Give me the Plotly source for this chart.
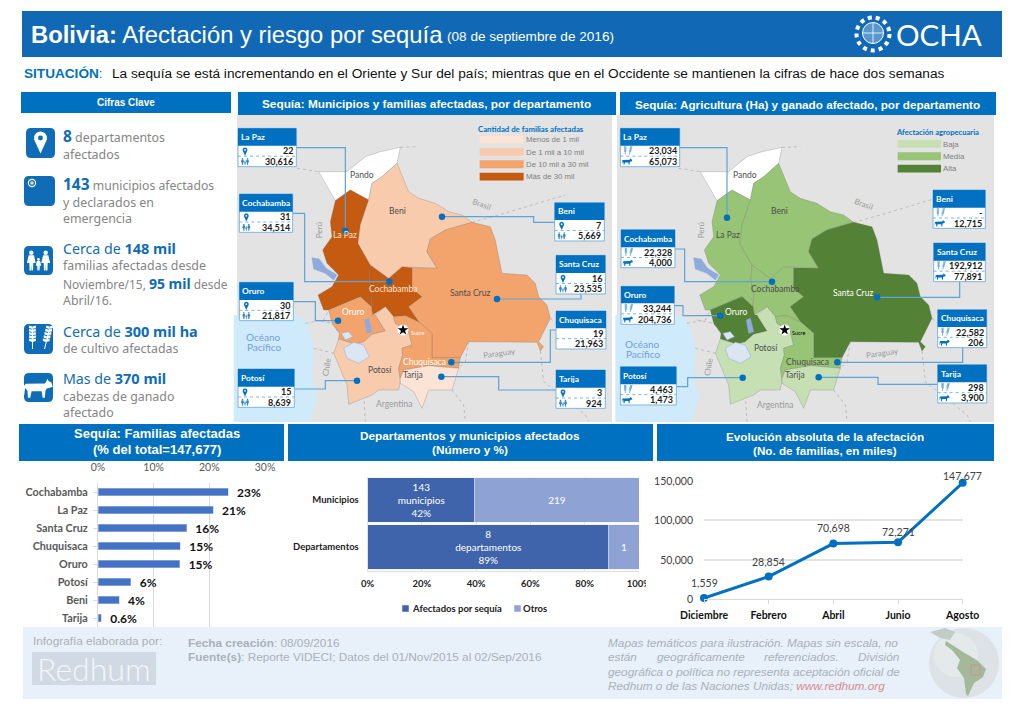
import numpy as np
import plotly.graph_objects as go

# ---------- chart data ----------
dept_names = ["Cochabamba", "La Paz", "Santa Cruz", "Chuquisaca", "Oruro", "Potosí", "Beni", "Tarija"]
dept_pct = [23.4, 20.7, 15.9, 14.8, 14.7, 5.9, 3.8, 0.6]
dept_pct_labels = ["23%", "21%", "16%", "15%", "15%", "6%", "4%", "0.6%"]

stack_cats = ["Municipios", "Departamentos"]
stack_afect = [143, 8]
stack_otros = [219, 1]
stack_afect_labels = ["143<br>municipios<br>42%", "8<br>departamentos<br>89%"]
stack_otros_labels = ["219", "1"]
stack_series = ["Afectados por sequía", "Otros"]

evo_months = ["Diciembre", "Febrero", "Abril", "Junio", "Agosto"]
evo_values = [1559, 28854, 70698, 72271, 147677]
evo_labels = ["1,559", "28,854", "70,698", "72,271", "147,677"]
evo_label_lift = [15, 15, 16, 10, 7]

# ---------- map callout data ----------
map1_callouts = {
    "La Paz": ("22", "30,616"), "Cochabamba": ("31", "34,514"), "Oruro": ("30", "21,817"),
    "Potosí": ("15", "8,639"), "Beni": ("7", "5,669"), "Santa Cruz": ("16", "23,535"),
    "Chuquisaca": ("19", "21,963"), "Tarija": ("3", "924"),
}
map2_callouts = {
    "La Paz": ("23,034", "65,073"), "Cochabamba": ("22,328", "4,000"), "Oruro": ("33,244", "204,736"),
    "Potosí": ("4,463", "1,473"), "Beni": ("-", "12,715"), "Santa Cruz": ("192,912", "77,891"),
    "Chuquisaca": ("22,582", "206"), "Tarija": ("298", "3,900"),
}
map1_fill = {"Pando": "#FFFFFF", "La Paz": "#C55A11", "Cochabamba": "#C55A11", "Beni": "#F8CBAD",
             "Santa Cruz": "#F2A46C", "Oruro": "#F2A46C", "Potosí": "#F8CBAD", "Chuquisaca": "#F2A46C",
             "Tarija": "#FBE4D5"}
map2_fill = {"Pando": "#FFFFFF", "La Paz": "#97C475", "Cochabamba": "#97C475", "Beni": "#97C475",
             "Santa Cruz": "#538135", "Oruro": "#538135", "Potosí": "#C6E0B4", "Chuquisaca": "#97C475",
             "Tarija": "#C6E0B4"}
map1_legend = [("Menos de 1 mil", "#FBE4D5"), ("De 1 mil a 10 mil", "#F8CBAD"),
               ("De 10 mil a 30 mil", "#F2A46C"), ("Más de 30 mil", "#C55A11")]
map2_legend = [("Baja", "#C6E0B4"), ("Media", "#97C475"), ("Alta", "#538135")]

# ---------- schematic outlines, traced in map-crop coordinates ----------
REGIONS = {
    "Pando": [(260,170),(345,170),(400,125),(445,110),(505,97),(500,125),(495,145),(450,185),(420,205),(410,255),(355,225),(310,257),(285,215)],
    "La Paz": [(355,225),(410,255),(385,330),(378,385),(415,450),(412,495),(420,540),(418,575),(385,545),(350,560),(290,585),(275,585),(258,540),(300,515),(320,480),(285,445),(272,405),(300,365),(295,320),(310,257)],
    "Cochabamba": [(415,450),(470,490),(510,455),(540,458),(540,520),(570,545),(530,575),(562,622),(520,602),(485,605),(460,575),(422,600),(418,575),(420,540),(412,495)],
    "Beni": [(495,145),(530,230),(560,250),(610,265),(650,290),(690,300),(720,322),(640,345),(595,372),(585,410),(615,460),(540,458),(510,455),(470,490),(415,450),(378,385),(385,330),(410,255),(420,205),(450,185)],
    "Santa Cruz": [(720,322),(775,335),(790,375),(800,425),(810,475),(885,480),(910,505),(920,545),(945,570),(955,610),(920,680),(935,695),(925,708),(915,682),(830,682),(710,680),(685,728),(600,728),(600,655),(562,622),(530,575),(570,545),(540,520),(540,458),(615,460),(585,410),(595,372),(640,345)],
    "Oruro": [(290,585),(350,560),(385,545),(418,575),(422,600),(430,600),(460,648),(420,658),(395,680),(370,688),(345,680),(320,672),(322,655),(300,625)],
    "Potosí": [(320,672),(345,680),(370,688),(395,680),(420,658),(460,648),(430,600),(460,575),(485,605),(490,625),(530,650),(540,690),(510,700),(512,720),(500,760),(505,800),(500,825),(440,825),(420,840),(350,868),(345,810),(320,750),(305,715)],
    "Chuquisaca": [(485,605),(520,602),(562,622),(600,655),(600,728),(685,728),(680,760),(590,752),(515,765),(505,790),(500,760),(512,720),(510,700),(540,690),(530,650),(490,625)],
    "Tarija": [(515,765),(590,752),(680,760),(660,825),(590,825),(570,880),(545,830),(505,805),(505,790)],
}
LAKES = [
    [(240,428),(262,432),(282,460),(315,480),(305,495),(280,475),(245,462)],
    [(398,615),(410,610),(420,650),(405,655)],
    [(328,655),(350,650),(362,665),(340,675)],
    [(335,700),(365,682),(395,690),(412,725),(380,745),(345,730)],
]
OCEAN = [(5,600),(190,600),(225,620),(245,700),(240,790),(255,850),(235,920),(5,920)]
BORDER_LINES = [
    [(195,160),(260,170)], [(220,625),(275,615),(290,585)], [(250,615),(300,625),(322,655)],
    [(245,700),(305,715)], [(395,840),(400,920)], [(660,825),(695,870),(700,920)],
    [(925,708),(935,800),(1060,900),(1070,920)], [(505,97),(560,95)], [(720,322),(800,300),(1000,240)],
    [(955,610),(1000,650)], [(710,680),(700,740),(680,760)],
]

LAYOUT_1 = {
    "La Paz": ((18,193,40,92,155), [(193,98),(340,98),(340,347)]),
    "Cochabamba": ((22,182,237,290,352), [(182,295),(218,295),(218,500),(472,500)]),
    "Oruro": ((22,184,502,555,617), [(184,560),(250,560),(250,617),(318,617)]),
    "Potosí": ((18,187,762,815,877), [(187,822),(280,822),(280,797),(375,797)]),
    "Beni": ((968,1117,263,315,378), [(968,322),(905,322),(905,305),(630,305)]),
    "Santa Cruz": ((972,1120,421,474,537), [(1047,537),(1047,552),(795,552)]),
    "Chuquisaca": ((972,1122,588,640,702), [(972,645),(955,645),(955,742),(658,742)]),
    "Tarija": ((972,1120,765,818,880), [(972,825),(800,825),(800,785),(628,785)]),
}
LAYOUT_2 = {
    "La Paz": ((25,203,40,92,155), [(203,98),(345,98),(345,308)]),
    "Cochabamba": ((27,189,344,397,458), [(189,402),(218,402),(218,500),(480,500)]),
    "Oruro": ((27,187,514,565,628), [(187,572),(213,572),(213,602),(325,602)]),
    "Potosí": ((25,193,755,808,870), [(193,815),(227,815),(227,788),(392,788)]),
    "Beni": ((963,1120,225,278,340), None),
    "Santa Cruz": ((965,1120,384,437,500), [(1043,500),(1043,547),(795,547)]),
    "Chuquisaca": ((977,1124,584,636,698), [(1052,698),(1052,742),(676,742)]),
    "Tarija": ((977,1124,749,802,864), [(977,808),(798,808),(798,787),(620,787)]),
}

BLUE = "#0070C0"
HEAD = "#1169B6"
SANS = "Liberation Sans"
CAL = "Lato"
W, H = 1020, 706

fig = go.Figure()
shapes, annots = [], []


def T(x, y, s, size=10, color="#000", anchor="left", font=SANS, angle=0):
    annots.append(dict(x=x, y=y, xref="x", yref="y", text=s, showarrow=False, xanchor=anchor,
                       yanchor="middle", textangle=angle, borderpad=0, borderwidth=0,
                       font=dict(size=size, color=color, family=font)))


def rect(x0, y0, x1, y1, fill, line=None, lw=1, layer="below"):
    shapes.append(dict(type="rect", xref="x", yref="y", x0=x0, y0=y0, x1=x1, y1=y1, fillcolor=fill,
                       line=dict(color=line or fill, width=lw if line else 0), layer=layer))


def poly(pts, fill, layer="above", line=None, lw=0):
    d = "M" + " L".join(f"{x:.2f},{y:.2f}" for x, y in pts) + " Z"
    shapes.append(dict(type="path", xref="x", yref="y", path=d, fillcolor=fill,
                       line=dict(color=line or fill, width=lw), layer=layer))


def circ(cx, cy, r, fill, layer="above", line=None, lw=0, dash="solid"):
    shapes.append(dict(type="circle", xref="x", yref="y", x0=cx-r, x1=cx+r, y0=cy-r, y1=cy+r,
                       fillcolor=fill, line=dict(color=line or fill, width=lw, dash=dash), layer=layer))


def seg(x0, y0, x1, y1, color, w=1, dash="solid"):
    shapes.append(dict(type="line", xref="x", yref="y", x0=x0, y0=y0, x1=x1, y1=y1,
                       line=dict(color=color, width=w, dash=dash), layer="above"))


def rounded(x0, y0, x1, y1, r, fill):
    d = (f"M{x0+r},{y0} L{x1-r},{y0} Q{x1},{y0} {x1},{y0+r} L{x1},{y1-r} Q{x1},{y1} {x1-r},{y1} "
         f"L{x0+r},{y1} Q{x0},{y1} {x0},{y1-r} L{x0},{y0+r} Q{x0},{y0} {x0+r},{y0} Z")
    shapes.append(dict(type="path", xref="x", yref="y", path=d, fillcolor=fill,
                       line=dict(color=fill, width=0), layer="above"))


def pin(cx, cy, r, col, hole):
    pts = [(cx + r*np.cos(t), cy - r*np.sin(t)) for t in np.radians(np.arange(-30, 211, 20))]
    pts.append((cx, cy + 2.4*r))
    poly(pts, col)
    circ(cx, cy, r*0.38, hole)


def person(cx, top, h, col):
    circ(cx, top + h*0.11, h*0.11, col)
    w = h*0.22
    poly([(cx-w*0.6, top+h*0.24), (cx+w*0.6, top+h*0.24), (cx+w, top+h*0.62), (cx+w*0.45, top+h*0.62),
          (cx+w*0.4, top+h), (cx+w*0.05, top+h), (cx, top+h*0.68), (cx-w*0.05, top+h), (cx-w*0.4, top+h),
          (cx-w*0.45, top+h*0.62), (cx-w, top+h*0.62)], col)


def family(cx, cy, s, col):
    person(cx - s*0.36, cy - s*0.5, s, col)
    person(cx + s*0.36, cy - s*0.5, s, col)
    person(cx, cy - s*0.12, s*0.62, col)


def wheat(cx, cy, s, col):
    for k, lean in ((-0.3, 0.0), (0.3, 0.25)):
        bx, by = cx + k*s, cy + 0.5*s
        tx, ty = cx + k*s + lean*s, cy - 0.5*s
        seg(bx, by, tx, ty, col, max(0.8, s*0.05))
        for f in np.linspace(0.35, 1.0, 5):
            mx, my = bx + (tx-bx)*f, by + (ty-by)*f
            for sd in (-1, 1):
                poly([(mx, my), (mx+sd*s*0.17, my-s*0.05), (mx+sd*s*0.17, my-s*0.17), (mx, my-s*0.12)], col)


def cow(cx, cy, s, col):
    pts = [(-.55,-.18),(.28,-.2),(.35,-.3),(.38,-.4),(.44,-.3),(.56,-.24),(.62,-.05),(.46,0),(.36,.02),(.3,.12),
           (.28,.42),(.18,.42),(.14,.14),(-.3,.14),(-.36,.42),(-.46,.42),(-.48,.12),(-.58,.0),(-.62,.3),(-.66,.3),(-.63,-.1)]
    poly([(cx+x*s, cy+y*s) for x, y in pts], col)


# ---------- overall panels ----------
rect(22, 11, 1002, 57, HEAD)
rect(21, 92, 231, 113, BLUE)
rect(238, 92, 616, 115, BLUE)
rect(620, 92, 996, 115, BLUE)
rect(237, 115, 612, 422, "#E3E3E3")
rect(617, 115, 994, 422, "#E3E3E3")
rect(19, 424, 284, 461, BLUE)
rect(288, 424, 653, 461, BLUE)
rect(657, 424, 994, 461, BLUE)
rect(23, 627, 1002, 699, "#E8F0F9")

# ---------- header text ----------
T(31, 34, "<b>Bolivia:</b> Afectación y riesgo por sequía", 23.8, "#FFF")
T(447, 36.5, "(08 de septiembre de 2016)", 13.6, "#FFF")
T(24, 73, "<b>SITUACIÓN</b>:", 13.6, BLUE)
T(112, 73, "La sequía se está incrementando en el Oriente y Sur del país; mientras que en el Occidente se mantienen la cifras de hace dos semanas", 13.7, "#111")
T(126, 102.5, "<b>Cifras Clave</b>", 10, "#FFF", "center")
T(426, 104, "<b>Sequía: Municipios y familias afectadas, por departamento</b>", 11.8, "#FFF", "center")
T(807, 104, "<b>Sequía: Agricultura (Ha) y ganado afectado, por departamento</b>", 11.7, "#FFF", "center")
T(157, 433, "<b>Sequía: Familias afectadas</b>", 13, "#FFF", "center")
T(157, 449, "<b>(% del total=147,677)</b>", 13, "#FFF", "center")
T(470, 436, "<b>Departamentos y municipios afectados</b>", 11.8, "#FFF", "center")
T(470, 450, "<b>(Número y %)</b>", 11.8, "#FFF", "center")
T(825, 436, "<b>Evolución absoluta de la afectación</b>", 11.7, "#FFF", "center")
T(825, 450, "<b>(No. de familias, en miles)</b>", 11.7, "#FFF", "center")

# OCHA logo
circ(873, 34, 16.5, "rgba(0,0,0,0)", line="#FFF", lw=4, dash="dot")
circ(873, 33, 10.5, "rgba(255,255,255,0.3)", line="#FFF", lw=1)
seg(873, 22.5, 873, 43.5, "#FFF", 0.8)
seg(862.5, 33, 883.5, 33, "#FFF", 0.8)
T(896, 34, "OCHA", 29.5, "#FFF", font="Lato")

# ---------- left key figures ----------
GR = "#858585"
KF = "Noto Sans"
B2 = "#0F6CB6"
rounded(26, 128, 55, 158, 5, B2)
pin(40.5, 138, 6.5, "#FFF", B2)
rounded(24, 176, 55, 206, 5, B2)
circ(32, 183, 4.2, "#FFF")
circ(32, 183, 3, B2)
circ(32, 183, 1.8, "#CFE0F0")
rounded(24, 246, 53, 275, 5, B2)
family(38.5, 260.5, 20, "#FFF")
rounded(24, 324, 53, 354, 5, B2)
wheat(38.5, 339, 20, "#FFF")
rounded(24, 373, 53, 402, 5, B2)
cow(38.5, 388, 23, "#FFF")


def big(s):
    return f"<b><span style='color:{B2}'>{s}</span></b>"


KS = 12.4
T(63, 135.5, f"<span style='font-size:15.5px'>{big('8')}</span> departamentos", KS, GR, font=KF)
T(63, 154, "afectados", KS, GR, font=KF)
T(63, 183.5, f"<span style='font-size:15.5px'>{big('143')}</span> municipios afectados", 12.2, GR, font=KF)
T(63, 202, "y declarados en", KS, GR, font=KF)
T(63, 218, "emergencia", KS, GR, font=KF)
T(63, 248, f"Cerca de <span style='font-size:14.5px'>{big('148 mil')}</span>", 14.2, B2, font=KF)
T(63, 265.5, "familias afectadas desde", KS, GR, font=KF)
T(63, 283, f"Noviembre/15, <span style='font-size:14px'>{big('95 mil')}</span> desde", 11.9, GR, font=KF)
T(63, 300, "Abril/16.", KS, GR, font=KF)
T(63, 331, f"Cerca de <span style='font-size:14.5px'>{big('300 mil ha')}</span>", 14.2, B2, font=KF)
T(63, 348.5, "de cultivo afectadas", KS, GR, font=KF)
T(63, 378, f"Mas de <span style='font-size:14.5px'>{big('370 mil')}</span>", 14.2, B2, font=KF)
T(63, 396, "cabezas de ganado", KS, GR, font=KF)
T(63, 412.5, "afectado", KS, GR, font=KF)


# ---------- maps ----------
def draw_map(ox, shift, fills, callouts, layout, icons, legend_title, legend, lx, ly0, swatch_w, labels):
    P = lambda zx, zy: (ox + zx/3, 115 + zy/3)
    Q = lambda zx, zy: (ox + (zx + shift)/3, 115 + zy/3)
    poly([Q(*p) for p in OCEAN], "#CFEAFB", layer="below")
    for ln in BORDER_LINES:
        xs, ys = zip(*[Q(*p) for p in ln])
        fig.add_trace(go.Scatter(x=xs, y=ys, mode="lines", line=dict(color="#B3B3B3", width=0.8, dash="dot"),
                                 hoverinfo="skip", showlegend=False))
    for name, pts in REGIONS.items():
        xs, ys = zip(*[Q(*p) for p in pts + [pts[0]]])
        fig.add_trace(go.Scatter(x=xs, y=ys, mode="lines", fill="toself", fillcolor=fills[name],
                                 line=dict(color="rgba(110,110,110,0.45)", width=0.6),
                                 name=name, hoverinfo="skip", showlegend=False))
    for i, lake in enumerate(LAKES):
        xs, ys = zip(*[Q(*p) for p in lake + [lake[0]]])
        col = "#8FAADC" if i < 2 else "#DCE6F2"
        fig.add_trace(go.Scatter(x=xs, y=ys, mode="lines", fill="toself", fillcolor=col,
                                 line=dict(color="#8FAADC", width=0.5), hoverinfo="skip", showlegend=False))
    # Sucre
    sx, sy = Q(513, 645)
    fig.add_trace(go.Scatter(x=[sx], y=[sy], mode="markers", hoverinfo="skip", showlegend=False,
                             marker=dict(size=11, color="#FFF")))
    fig.add_trace(go.Scatter(x=[sx], y=[sy], mode="markers", hoverinfo="skip", showlegend=False,
                             marker=dict(size=8, color="#000", symbol="star")))
    # leader lines
    dots_x, dots_y = [], []
    for name, (box, path) in layout.items():
        if path:
            xs, ys = zip(*[P(*p) for p in path])
            fig.add_trace(go.Scatter(x=xs, y=ys, mode="lines", line=dict(color="#5BA3D9", width=1.2),
                                     hoverinfo="skip", showlegend=False))
            dots_x.append(xs[-1]); dots_y.append(ys[-1])
    fig.add_trace(go.Scatter(x=dots_x, y=dots_y, mode="markers", marker=dict(size=6.5, color=BLUE),
                             hoverinfo="skip", showlegend=False))
    # call-out boxes
    for name, ((a, b, t, m, e), _) in layout.items():
        x0, y0 = P(a, t); x1, y1 = P(b, e); ym = 115 + m/3
        rect(x0, y0, x1, y1, "#FFF", "#7FB5DE", 1, layer="above")
        rect(x0, y0, x1, ym, BLUE, layer="above")
        mid = (ym + y1)/2
        seg(x0, mid, x1, mid, "#5BA3D9", 0.8, "dot")
        T(x0 + 3, (y0 + ym)/2, f"<b>{name}</b>", 8.4, "#FFF", font=CAL)
        v1, v2 = callouts[name]
        T(x1 - 3, (ym + mid)/2, f"<b>{v1}</b>", 9, "#1A1A1A", "right", CAL)
        T(x1 - 3, (mid + y1)/2, f"<b>{v2}</b>", 9, "#1A1A1A", "right", CAL)
        ix = x0 + 7
        if icons == "people" and name != "Chuquisaca":
            pin(ix, (ym + mid)/2 - 1, 2.4, BLUE, "#FFF")
            family(ix, (mid + y1)/2, 7, "#2E86C8")
        elif icons == "farm":
            wheat(ix, (ym + mid)/2, 7, "#5BA3D9")
            cow(ix, (mid + y1)/2, 8, BLUE)
    # legend
    T(ox + lx[0]/3, 115 + lx[1]/3, f"<b>{legend_title}</b>", lx[2], BLUE, "center", CAL)
    for i, (lab, col) in enumerate(legend):
        yy0 = 115 + (ly0 + i*37)/3
        rect(ox + lx[3]/3, yy0, ox + (lx[3] + swatch_w)/3, yy0 + 7.8, col)
        T(ox + (lx[3] + swatch_w + 6)/3, yy0 + 4.2, lab, 7.8, "#7F7F7F")
    # labels
    for s, zx, zy, sz, col, ang in labels:
        T(ox + zx/3, 115 + zy/3, s, sz, col, "center", CAL, ang)


DK = "#4D4D4D"
GL = "#9A9A9A"
OC = "#6FA0DC"
draw_map(232, 0, map1_fill, map1_callouts, LAYOUT_1, "people", "Cantidad de familias afectadas", map1_legend,
         (898, 42, 7.8, 743), 62, 132,
         [("Pando", 391, 180, 8.5, DK, 0), ("Beni", 497, 288, 8.5, DK, 0), ("La Paz", 340, 360, 8.5, "#FFE8D8", 0),
          ("Cochabamba", 482, 523, 8.5, "#FFE8D8", 0), ("Santa Cruz", 713, 535, 8.5, DK, 0), ("Oruro", 363, 590, 8.5, "#FFF", 0),
          ("Potosí", 443, 765, 8.5, DK, 0), ("Chuquisaca", 578, 740, 8.5, "#FFF", 0), ("Tarija", 543, 780, 8.5, DK, 0),
          ("Sucre", 558, 654, 5.5, "#FFF", 0), ("Brasil", 748, 268, 8, GL, 20), ("Perú", 262, 345, 8, GL, -90),
          ("Chile", 283, 755, 8, GL, -80), ("Paraguay", 803, 713, 8, GL, -8), ("Argentina", 485, 867, 8.5, GL, 0),
          ("Océano", 93, 665, 10, OC, 0), ("Pacífico", 95, 696, 10, OC, 0)])
draw_map(612, 5, map2_fill, map2_callouts, LAYOUT_2, "farm", "Afectación agropecuaria", map2_legend,
         (975, 50, 7.6, 857), 75, 130,
         [("Pando", 398, 180, 8.5, DK, 0), ("Beni", 503, 288, 8.5, DK, 0), ("La Paz", 347, 360, 8.5, DK, 0),
          ("Cochabamba", 490, 522, 8.5, DK, 0), ("Santa Cruz", 722, 535, 8.5, "#FFF", 0), ("Oruro", 372, 590, 8.5, "#FFF", 0),
          ("Potosí", 463, 700, 8.5, DK, 0), ("Chuquisaca", 587, 740, 8.5, DK, 0), ("Tarija", 550, 780, 8.5, DK, 0),
          ("Sucre", 562, 653, 5.5, "#000", 0), ("Brasil", 755, 268, 8, GL, 20), ("Perú", 268, 345, 8, GL, -90),
          ("Chile", 290, 757, 8, GL, -80), ("Paraguay", 810, 713, 8, GL, -8), ("Argentina", 490, 869, 8.5, GL, 0),
          ("Océano", 90, 687, 10, OC, 0), ("Pacífico", 92, 717, 10, OC, 0)])

# ---------- footer ----------
FG = "#A9B1BA"
FS = 11.8
T(33, 641, "Infografía elaborada por:", FS, FG)
rect(32, 652, 156, 685, "#D1D9E4")
T(94, 668.5, "Redhum", 32, "#F3F6FA", "center", "Lato")
annots[-1]["font"]["weight"] = 300
T(188, 643, "<b>Fecha creación</b>: 08/09/2016", FS, FG)
T(188, 657, "<b>Fuente(s)</b>: Reporte VIDECI; Datos del 01/Nov/2015 al 02/Sep/2016", FS, FG)
IT = lambda x, y, s, a="left": T(x, y, f"<i>{s}</i>", FS, FG, a)
IT(608, 643, "Mapas temáticos para ilustración. Mapas sin escala, no")
IT(608, 657, "están")
IT(657, 657, "geográficamente")
IT(764, 657, "referenciados.")
IT(900, 657, "División", "right")
IT(608, 671.5, "geográfica o política no representa aceptación oficial de")
T(608, 686, "<i>Redhum o de las Naciones Unidas; <span style='color:#D98A92'>www.redhum.org</span></i>", FS, FG)
# globe
circ(964, 663, 35, "#DCE2E5")
circ(956, 655, 22, "#E4E9EB")
poly([(946,641),(957,648),(963,652),(970,656),(978,661),(986,669),(983,677),(974,683),(968,696),(966,694),(964,678),(957,668),(960,660),(952,650),(945,645)], "#A4B89A")
poly([(930,632),(945,628),(955,632),(950,640),(940,638)], "#C2CCC6")
seg(971, 665, 980, 665, "#D98A92", 0.8); seg(980, 665, 980, 675, "#D98A92", 0.8)
seg(980, 675, 971, 675, "#D98A92", 0.8); seg(971, 675, 971, 665, "#D98A92", 0.8)

# clip of the "100%" tick label, as in the source
rect(646, 577, 652, 591, "#FFF", layer="above")

# legend of the stacked chart
fig.add_trace(go.Scatter(x=[405.5, 517.5], y=[608.5, 608.5], mode="markers", hoverinfo="skip", showlegend=False,
                         marker=dict(size=6.5, symbol="square", color=["#3F64AB", "#8FA2D4"])))
T(411.5, 608.5, f"<b>{stack_series[0]}</b>", 9.5, "#222", font=CAL)
T(523, 608.5, f"<b>{stack_series[1]}</b>", 9.5, "#222", font=CAL)

# ---------- chart 1: horizontal bars ----------
fig.add_trace(go.Bar(x=dept_pct, y=dept_names, orientation="h", xaxis="x2", yaxis="y2", width=0.4,
                     marker=dict(color="#4472C4", line=dict(color="#B4C7E7", width=0.5)),
                     text=dept_pct_labels, texttemplate="\u00a0\u00a0%{text}", textposition="outside", cliponaxis=False,
                     constraintext="none",
                     textfont=dict(family=CAL, size=12, color="#111", weight="bold"), hoverinfo="skip", showlegend=False))

# ---------- chart 2: stacked share bars ----------
tot = [a + b for a, b in zip(stack_afect, stack_otros)]
fig.add_trace(go.Bar(x=[100*a/t for a, t in zip(stack_afect, tot)], y=stack_cats, orientation="h", xaxis="x3", yaxis="y3",
                     width=0.94, name=stack_series[0], marker=dict(color="#3F64AB"), text=stack_afect_labels,
                     textposition="inside", insidetextanchor="middle", constraintext="none", textangle=0,
                     textfont=dict(family=CAL, size=10, color="#FFF"), hoverinfo="skip", showlegend=False))
fig.add_trace(go.Bar(x=[100*b/t for b, t in zip(stack_otros, tot)], y=stack_cats, orientation="h", xaxis="x3", yaxis="y3",
                     width=0.94, name=stack_series[1], marker=dict(color="#8FA2D4"), text=stack_otros_labels,
                     textposition="inside", insidetextanchor="middle", constraintext="none", textangle=0,
                     textfont=dict(family=CAL, size=10, color="#FFF"), hoverinfo="skip", showlegend=False))

# ---------- chart 3: line ----------
fig.add_trace(go.Scatter(x=evo_months, y=evo_values, mode="lines+markers", xaxis="x4", yaxis="y4", cliponaxis=False,
                         line=dict(color=BLUE, width=3), marker=dict(size=8, color=BLUE), hoverinfo="skip", showlegend=False))
for m, v, l, lift in zip(evo_months, evo_values, evo_labels, evo_label_lift):
    annots.append(dict(x=m, y=v, xref="x4", yref="y4", text=l, showarrow=False, yshift=lift, yanchor="middle",
                       font=dict(family=CAL, size=10.5, color="#404040")))


def dx(a, b):
    return [a/W, b/W]


def dy(top, bottom):
    return [1 - bottom/H, 1 - top/H]


GRID = "#D9D9D9"
fig.update_layout(
    width=W, height=H, margin=dict(l=0, r=0, t=0, b=0, autoexpand=False), paper_bgcolor="#FFF", plot_bgcolor="rgba(0,0,0,0)",
    barmode="stack", showlegend=False, shapes=shapes, annotations=annots,
    font=dict(family=CAL),
    xaxis=dict(domain=[0, 1], range=[0, W], visible=False, fixedrange=True),
    yaxis=dict(domain=[0, 1], range=[H, 0], visible=False, fixedrange=True),
    xaxis2=dict(domain=dx(98, 265), range=[0, 30], anchor="y2", side="top", tickvals=[0, 10, 20, 30], automargin=False,
                ticktext=["0%", "10%", "20%", "30%"], showgrid=True, gridcolor=GRID, showline=False, zeroline=False,
                tickfont=dict(family=CAL, size=10.5, color="#595959"), ticklabelstandoff=9),
    yaxis2=dict(domain=dy(483, 627), anchor="x2", autorange="reversed", categoryorder="array", categoryarray=dept_names,
                showline=True, linecolor=GRID, ticks="outside", ticklen=4, tickcolor=GRID, automargin=False,
                tickfont=dict(family=CAL, size=10.8, color="#595959", weight="bold"), ticklabelstandoff=3),
    xaxis3=dict(domain=dx(367.7, 639), range=[0, 100], anchor="y3", tickvals=[0, 20, 40, 60, 80, 100], automargin=False,
                ticktext=["0%", "20%", "40%", "60%", "80%", "100%"], showgrid=True, gridcolor="#E0E0E0", showline=True,
                linecolor="#E0E0E0", zeroline=False, tickfont=dict(family=CAL, size=9.5, color="#222", weight="bold"),
                ticklabelstandoff=4),
    yaxis3=dict(domain=dy(476.5, 570.5), anchor="x3", autorange="reversed", categoryorder="array", categoryarray=stack_cats,
                showline=True, linecolor="#E0E0E0", tickfont=dict(family=CAL, size=9.5, color="#222", weight="bold"),
                ticklabelstandoff=6, automargin=False),
    xaxis4=dict(domain=dx(704, 962.7), range=[0, 4], anchor="y4", type="category", categoryorder="array", automargin=False,
                categoryarray=evo_months, showgrid=False, showline=True, linecolor=GRID, ticks="outside", ticklen=4,
                tickcolor=GRID, tickfont=dict(family=CAL, size=10.5, color="#111", weight="bold"), ticklabelstandoff=2),
    yaxis4=dict(domain=dy(481, 599.3), range=[0, 150000], anchor="x4", tickvals=[0, 50000, 100000, 150000], automargin=False,
                tickformat=",d", showgrid=True, gridcolor="#E3E3E3", gridwidth=1.5, zeroline=False, showline=False,
                tickfont=dict(family=CAL, size=10.5, color="#404040"), ticklabelstandoff=10),
)

fig.write_html("out.html", post_script="document.body.style.margin='0';document.body.style.overflow='hidden';",
               config=dict(displayModeBar=False))
